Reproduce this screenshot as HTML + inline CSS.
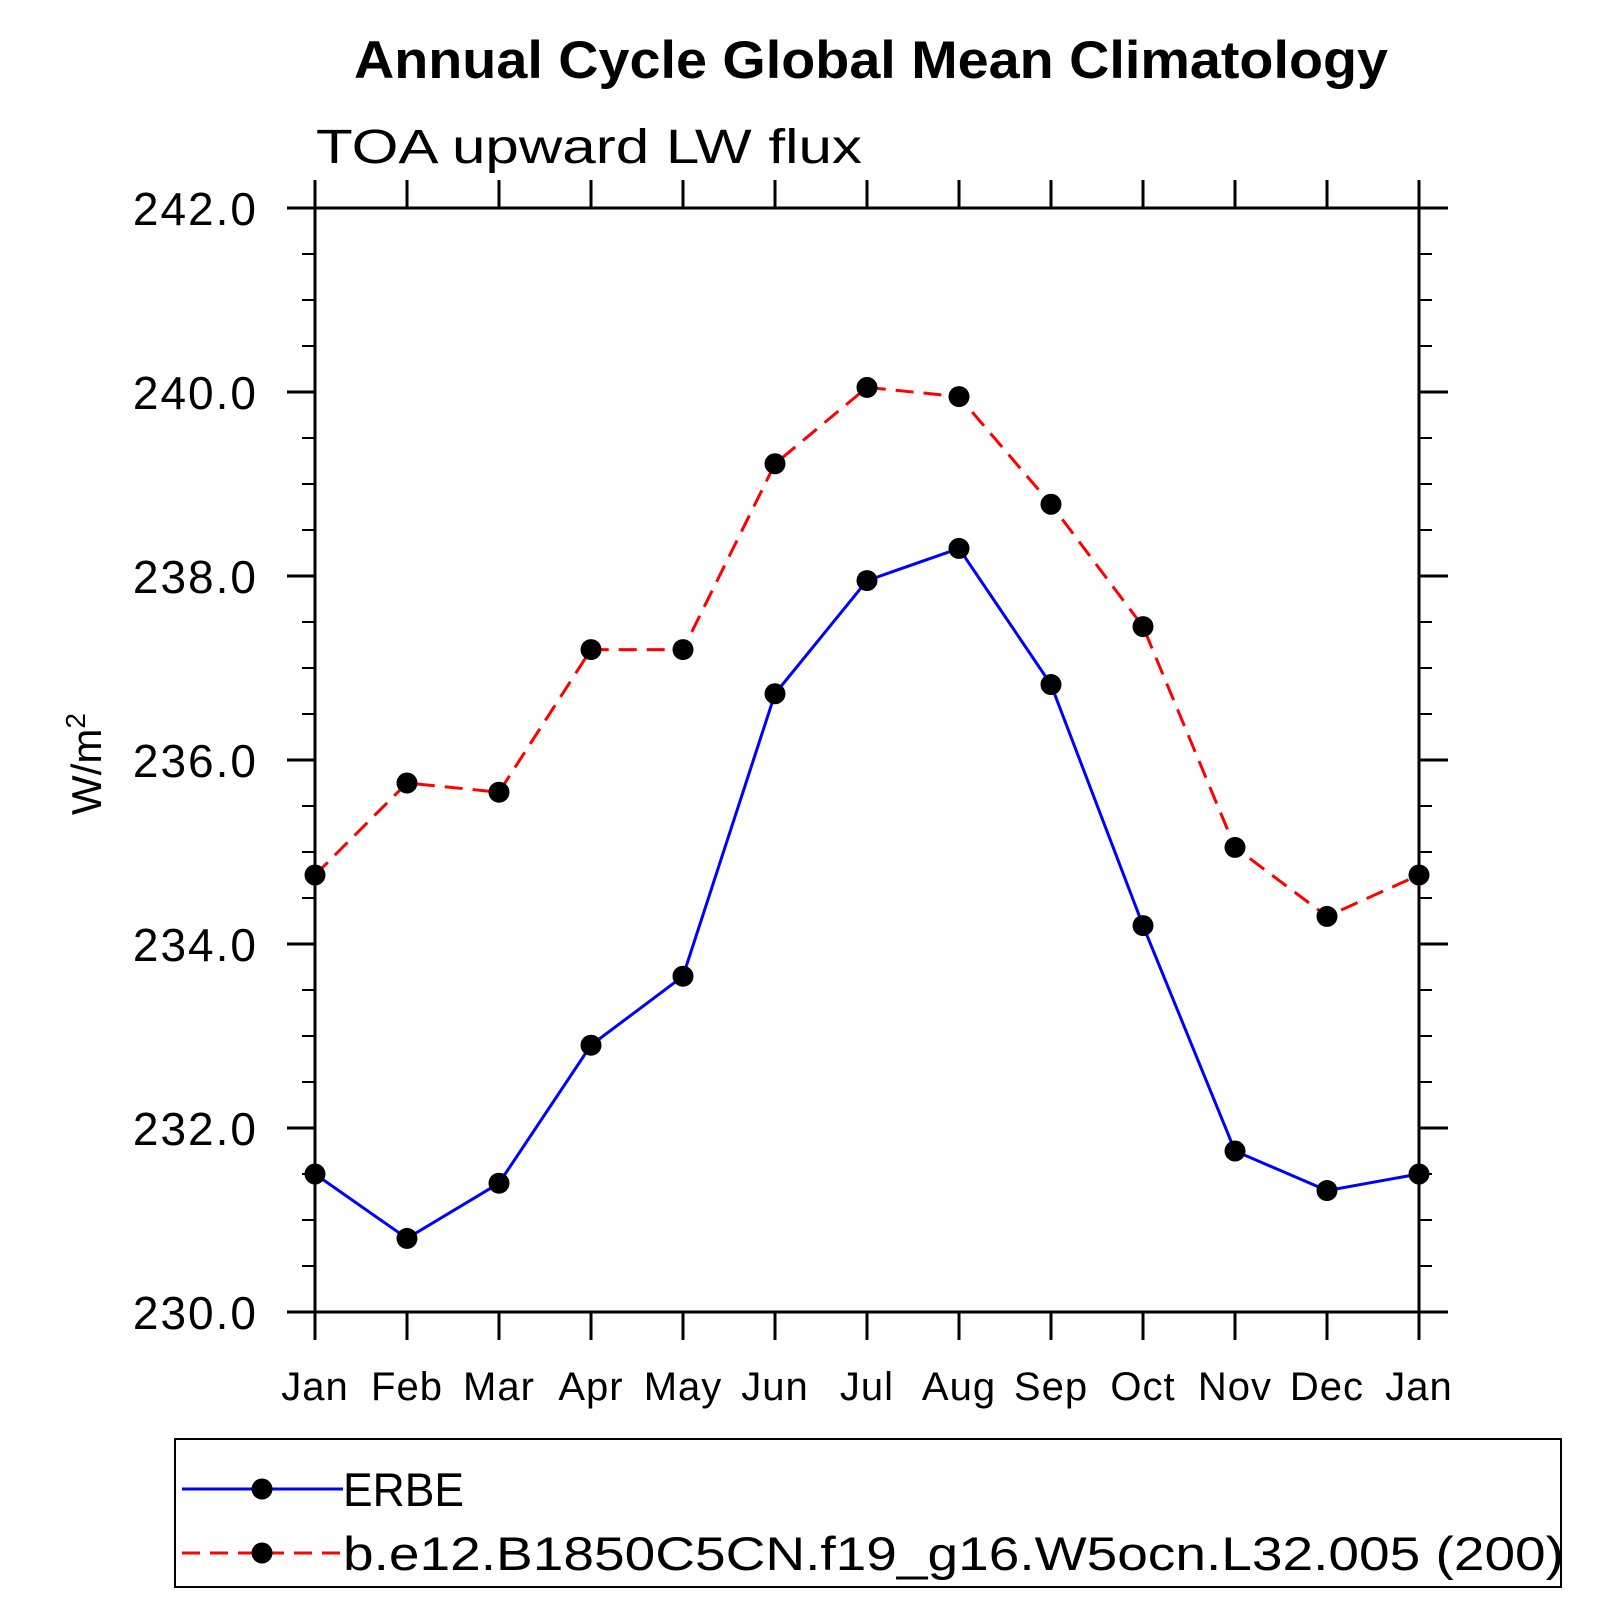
<!DOCTYPE html>
<html><head><meta charset="utf-8"><style>
html,body{margin:0;padding:0;background:#fff;}
svg{display:block;}
text{font-family:"Liberation Sans",sans-serif;}
</style></head><body>
<svg id="chart" width="1624" height="1624" viewBox="0 0 1624 1624">
<text x="354" y="78" textLength="1034" lengthAdjust="spacingAndGlyphs" font-size="53" font-weight="bold">Annual Cycle Global Mean Climatology</text>
<text x="316" y="163" textLength="546" lengthAdjust="spacingAndGlyphs" font-size="48" font-weight="300">TOA upward LW flux</text>
<text transform="translate(101,764) rotate(-90)" text-anchor="middle" font-size="42">W/m<tspan dy="-16" font-size="28">2</tspan></text>
<g id="axes"></g>
<g id="series"></g>
<rect x="175" y="1439" width="1386" height="148" fill="none" stroke="#000" stroke-width="2"/>
<g id="legend"></g>
</svg>
<script>
const months = ["Jan","Feb","Mar","Apr","May","Jun","Jul","Aug","Sep","Oct","Nov","Dec","Jan"];
const erbe = [231.5,230.8,231.4,232.9,233.65,236.72,237.95,238.3,236.82,234.2,231.75,231.32,231.5];
const model = [234.75,235.75,235.65,237.2,237.2,239.22,240.05,239.95,238.78,237.45,235.05,234.3,234.75];
const yTicks = [230,232,234,236,238,240,242];
const yTickLabels = ["230.0","232.0","234.0","236.0","238.0","240.0","242.0"];
const seriesNames = ["ERBE","b.e12.B1850C5CN.f19_g16.W5ocn.L32.005 (200)"];

const NS="http://www.w3.org/2000/svg";
const L=315,R=1419,T=208,B=1312,ymin=230,ymax=242;
const xs=i=>L+(R-L)*i/(months.length-1);
const ys=v=>B-(B-T)*(v-ymin)/(ymax-ymin);
function mk(tag,attrs,parent){const e=document.createElementNS(NS,tag);for(const k in attrs)e.setAttribute(k,attrs[k]);parent.appendChild(e);return e;}
const ax=document.getElementById('axes');
const frame=mk('rect',{x:L,y:T,width:R-L,height:B-T,fill:'none',stroke:'#000','stroke-width':3},ax);


months.forEach((m,i)=>{
  const x=xs(i);
  const t1=mk('line',{x1:x,y1:B,x2:x,y2:B+28,stroke:'#000','stroke-width':3},ax);
  
  
  const t2=mk('line',{x1:x,y1:T,x2:x,y2:T-28,stroke:'#000','stroke-width':3},ax);
  
  
  const tx=mk('text',{x:x,y:1400,'text-anchor':'middle','font-size':40,'letter-spacing':1},ax);
  tx.textContent=m;
  
  
});
for(let v=ymin;v<=ymax+1e-6;v+=0.5){
  if(Math.abs(v-Math.round(v/2)*2)<1e-6) continue;
  const y=ys(v);
  const a=mk('line',{x1:L,y1:y,x2:L-13,y2:y,stroke:'#000','stroke-width':2},ax);
  
  
  const b=mk('line',{x1:R,y1:y,x2:R+13,y2:y,stroke:'#000','stroke-width':2},ax);
  
  
}
yTicks.forEach((v,i)=>{
  const y=ys(v);
  const a=mk('line',{x1:L-28,y1:y,x2:L,y2:y,stroke:'#000','stroke-width':3},ax);
  
  
  const b=mk('line',{x1:R,y1:y,x2:R+29,y2:y,stroke:'#000','stroke-width':3},ax);
  
  
  const t=mk('text',{x:258,y:y+17,'text-anchor':'end','font-size':46,'letter-spacing':2},ax);
  t.textContent=yTickLabels[i];
  
  
});
const sg=document.getElementById('series');
function drawSeries(vals,color,dash,name){
  const p=mk('polyline',{points:vals.map((v,i)=>xs(i)+','+ys(v)).join(' '),fill:'none',stroke:color,'stroke-width':3,'stroke-dasharray':dash},sg);
  
  
  vals.forEach((v,i)=>{
    const c=mk('circle',{cx:xs(i),cy:ys(v),r:10.5,fill:'#000'},sg);
    
    
  });
}
drawSeries(model,'#ff0000','18 10','model');
drawSeries(erbe,'#0000ff','none','erbe');
const lg=document.getElementById('legend');
const lens=[121,1221];
[[1489,'#0000ff','none'],[1553,'#ff0000','18 10']].forEach((r,i)=>{
  const l=mk('line',{x1:182,y1:r[0],x2:343,y2:r[0],stroke:r[1],'stroke-width':3,'stroke-dasharray':r[2]},lg);
  
  
  const c=mk('circle',{cx:262,cy:r[0],r:10.5,fill:'#000'},lg);
  
  
  const t=mk('text',{x:343,y:r[0]+17,'font-size':47,textLength:lens[i],lengthAdjust:'spacingAndGlyphs'},lg);
  t.textContent=seriesNames[i];
  
  
});
</script>
</body></html>
